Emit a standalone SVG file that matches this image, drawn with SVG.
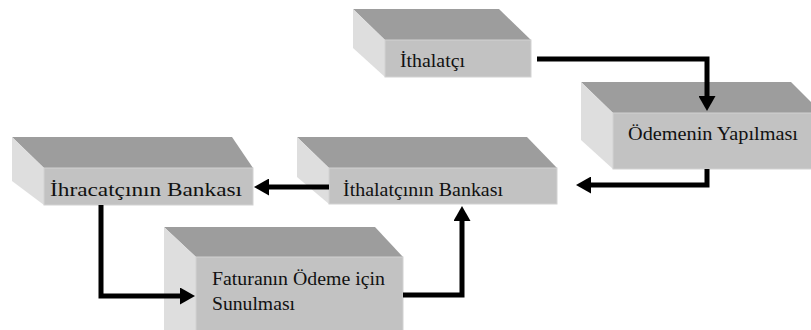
<svg xmlns="http://www.w3.org/2000/svg" width="811" height="330" viewBox="0 0 811 330">
<defs>
<style>
.top{fill:#9d9d9d}
.side{fill:#dedede}
.front{fill:#c2c2c2;stroke:#d2d2d2;stroke-width:1}
.lbl{font-family:"Liberation Serif","Times New Roman",serif;font-size:19px;fill:#111}
.conn{fill:none;stroke:#000;stroke-width:5;stroke-linejoin:miter}
</style>
<marker id="ah" viewBox="0 0 15 17" refX="1" refY="8.5" markerWidth="15" markerHeight="17" markerUnits="userSpaceOnUse" orient="auto">
<path d="M0,0 L15,8.5 L0,17 z" fill="#000"/>
</marker>
</defs>
<rect width="811" height="330" fill="#fff"/>
<g id="node-ithalatci">
<polygon class="top" points="353,9 499,9 531,40 385,40"/>
<polygon class="side" points="353,9 385,40 385,77 353,48"/>
<rect class="front" x="385" y="40" width="146" height="37"/>
<text class="lbl" x="400" y="67" textLength="65" lengthAdjust="spacingAndGlyphs">İthalatçı</text>
</g>
<g id="node-odeme">
<polygon class="top" points="581,82 791,82 822,113 613,113"/>
<polygon class="side" points="581,82 613,113 613,169 581,140"/>
<rect class="front" x="613" y="113" width="210" height="56"/>
<text class="lbl" x="628" y="140" textLength="170" lengthAdjust="spacingAndGlyphs">Ödemenin Yapılması</text>
</g>
<g id="node-ihracatci-banka">
<polygon class="top" points="12,137 232,137 253,168 44,168"/>
<polygon class="side" points="12,137 44,168 44,205 12,181"/>
<rect class="front" x="44" y="168" width="209" height="37"/>
<text class="lbl" x="50" y="196" textLength="192" lengthAdjust="spacingAndGlyphs">İhracatçının Bankası</text>
</g>
<g id="node-ithalatci-banka">
<polygon class="top" points="297,137 527,137 557,168 329,168"/>
<polygon class="side" points="297,137 329,168 329,204 297,177"/>
<rect class="front" x="329" y="168" width="228" height="36"/>
<text class="lbl" x="343" y="196" textLength="160" lengthAdjust="spacingAndGlyphs">İthalatçının Bankası</text>
</g>
<g id="node-fatura">
<polygon class="top" points="164,227 375,227 403,257 196,257"/>
<polygon class="side" points="164,227 196,257 196,331 164,331"/>
<rect class="front" x="196" y="257" width="207" height="74"/>
<text class="lbl" x="212" y="285" textLength="173" lengthAdjust="spacingAndGlyphs">Faturanın Ödeme için</text>
<text class="lbl" x="212" y="310" textLength="83" lengthAdjust="spacingAndGlyphs">Sunulması</text>
</g>
<g id="connectors">
<path class="conn" d="M537,59 H707 V97" marker-end="url(#ah)"/>
<path class="conn" d="M707,169 V185 H590" marker-end="url(#ah)"/>
<path class="conn" d="M329,187 H268" marker-end="url(#ah)"/>
<path class="conn" d="M101,205 V296 H181" marker-end="url(#ah)"/>
<path class="conn" d="M403,295 H462 V220" marker-end="url(#ah)"/>
</g>
</svg>
